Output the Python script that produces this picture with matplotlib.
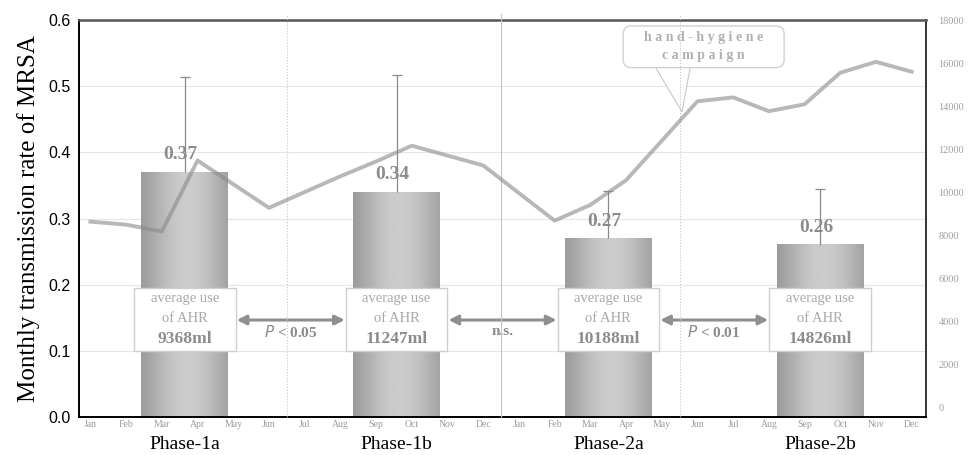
import numpy as np
import matplotlib
matplotlib.use("Agg")
import matplotlib.pyplot as plt
from matplotlib.patches import FancyBboxPatch, Polygon

plt.rcParams['font.family'] = ['Liberation Serif', 'DejaVu Serif']

# data
phases = ['Phase-1a', 'Phase-1b', 'Phase-2a', 'Phase-2b']
rate = [0.37, 0.34, 0.27, 0.26]
rate_upper = [0.514, 0.517, 0.342, 0.345]
avg_ahr = ['9368ml', '11247ml', '10188ml', '14826ml']
p_labels = ['$P$ < 0.05', 'n.s.', '$P$ < 0.01']

months = ['Jan', 'Feb', 'Mar', 'Apr', 'May', 'Jun', 'Jul', 'Aug', 'Sep', 'Oct', 'Nov', 'Dec'] * 2
ahr_use = [8624, 8486, 8165, 11468, 10367, 9266, 10000, 10734, 11422, 12156, 11697, 11239,
           9954, 8670, 9404, 10550, 12385, 14220, 14404, 13761, 14083, 15550, 16055, 15596]
dividers = [5.5, 11.5, 16.5]
divider_styles = [':', '-', ':']

fig = plt.figure(figsize=(9.68, 4.55), dpi=100)
pos = [0.0816, 0.0835, 0.875, 0.8725]

# bar axes (left scale)
ax = fig.add_axes(pos)
x = np.arange(len(phases))
width = 0.41
grad = 0.60 + 0.20 * np.sin(np.linspace(0.15, np.pi - 0.35, 200)) ** 1.5
grad = grad.reshape(1, -1)
for xi, h in zip(x, rate):
    ax.imshow(grad, extent=[xi - width / 2, xi + width / 2, 0, h], aspect='auto',
              cmap='gray', vmin=0, vmax=1, zorder=2)
# upper error bars only
ax.vlines(x, rate, rate_upper, color='#8a8a8a', linewidth=0.9, zorder=3)
ax.plot(x, rate_upper, linestyle='none', marker='_', markersize=7, markeredgewidth=0.9,
        color='#8a8a8a', zorder=3)
for xi, h in zip(x, rate):
    ax.text(xi - 0.02, h + 0.026, f'{h:.2f}', ha='center', va='center', fontsize=14,
            fontweight='bold', color='#8c8c8c', zorder=4)

ax.set_xlim(-0.5, 3.5)
ax.set_ylim(0, 0.6)
ax.set_yticks(np.arange(0, 0.61, 0.1))
ax.set_yticklabels([f'{v:.1f}' for v in np.arange(0, 0.61, 0.1)], family='Liberation Sans', fontsize=11.5)
ax.set_xticks(x)
ax.set_xticklabels(phases, fontsize=14)
ax.tick_params(axis='x', length=0, pad=14)
ax.tick_params(axis='y', length=0, pad=6)
ax.set_ylabel('Monthly transmission rate of MRSA', fontsize=18, labelpad=6)
ax.grid(axis='y', color='#e6e6e6', linewidth=0.8, zorder=0)
ax.set_axisbelow(True)
for s in ['left', 'bottom']:
    ax.spines[s].set_linewidth(1.4)
ax.spines['top'].set_linewidth(1.8)
ax.spines['top'].set_color('#555555')
ax.spines['right'].set_linewidth(1.4)
ax.spines['right'].set_color('#333333')

# AHR boxes and comparison arrows
bw = 0.24
for xi, v in zip(x, avg_ahr):
    ax.add_patch(plt.Rectangle((xi - bw, 0.1), 2 * bw, 0.095, facecolor='white',
                               edgecolor='#cfcfcf', linewidth=1.0, zorder=5))
    ax.text(xi, 0.179, 'average use', ha='center', va='center', fontsize=10.5, color='#a8a8a8', zorder=6)
    ax.text(xi, 0.149, 'of AHR', ha='center', va='center', fontsize=10.5, color='#a8a8a8', zorder=6)
    ax.text(xi, 0.118, v, ha='center', va='center', fontsize=12.5, fontweight='bold', color='#8c8c8c', zorder=6)
for i, lab in enumerate(p_labels):
    ax.annotate('', xy=(i + 1 - bw - 0.005, 0.1466), xytext=(i + bw + 0.005, 0.1466),
                arrowprops=dict(arrowstyle='<|-|>', color='#8f8f8f', lw=2.2,
                                mutation_scale=14, shrinkA=0, shrinkB=0), zorder=5)
    ax.text(i + 0.5, 0.129, lab, ha='center', va='center', fontsize=11, fontweight='bold',
            color='#8c8c8c', zorder=6)

# campaign callout
ax.add_patch(Polygon([[2.21, 0.535], [2.348, 0.461], [2.39, 0.535]], closed=True,
                     facecolor='white', edgecolor='#c8c8c8', linewidth=0.8, zorder=6))
ax.add_patch(FancyBboxPatch((2.07, 0.528), 0.76, 0.063, boxstyle='round,pad=0,rounding_size=0.04',
                            mutation_aspect=0.3, facecolor='white', edgecolor='#d2d2d2',
                            linewidth=1.0, zorder=7))
ax.text(2.45, 0.573, 'h a n d - h y g i e n e', ha='center', va='center', fontsize=10,
        fontweight='bold', color='#b0b0b0', zorder=8)
ax.text(2.45, 0.546, 'c a m p a i g n', ha='center', va='center', fontsize=10,
        fontweight='bold', color='#b0b0b0', zorder=8)

# monthly AHR line (right scale)
axl = fig.add_axes(pos, frameon=False)
axl.plot(np.arange(len(ahr_use)), ahr_use, color='#8a8a8a', alpha=0.6, linewidth=2.8,
         solid_joinstyle='round', zorder=3)
for d, ls in zip(dividers, divider_styles):
    axl.axvline(d, ymin=0, ymax=1.015, color='#c4c4c4', linestyle=ls, linewidth=0.8,
                clip_on=False, zorder=1)
axl.set_xlim(-0.32, 23.4)
axl.set_ylim(-460, 18000)
axl.set_xticks(np.arange(len(months)))
axl.set_xticklabels(months, fontsize=7, color='#9a9a9a')
axl.tick_params(axis='x', length=0, pad=2)
axl.yaxis.tick_right()
axl.set_yticks(np.arange(0, 18001, 2000))
axl.set_yticklabels([str(v) for v in range(0, 18001, 2000)], fontsize=7.5, color='#a0a0a0')
axl.tick_params(axis='y', length=0, pad=9)

fig.savefig('out.png', dpi=100)
